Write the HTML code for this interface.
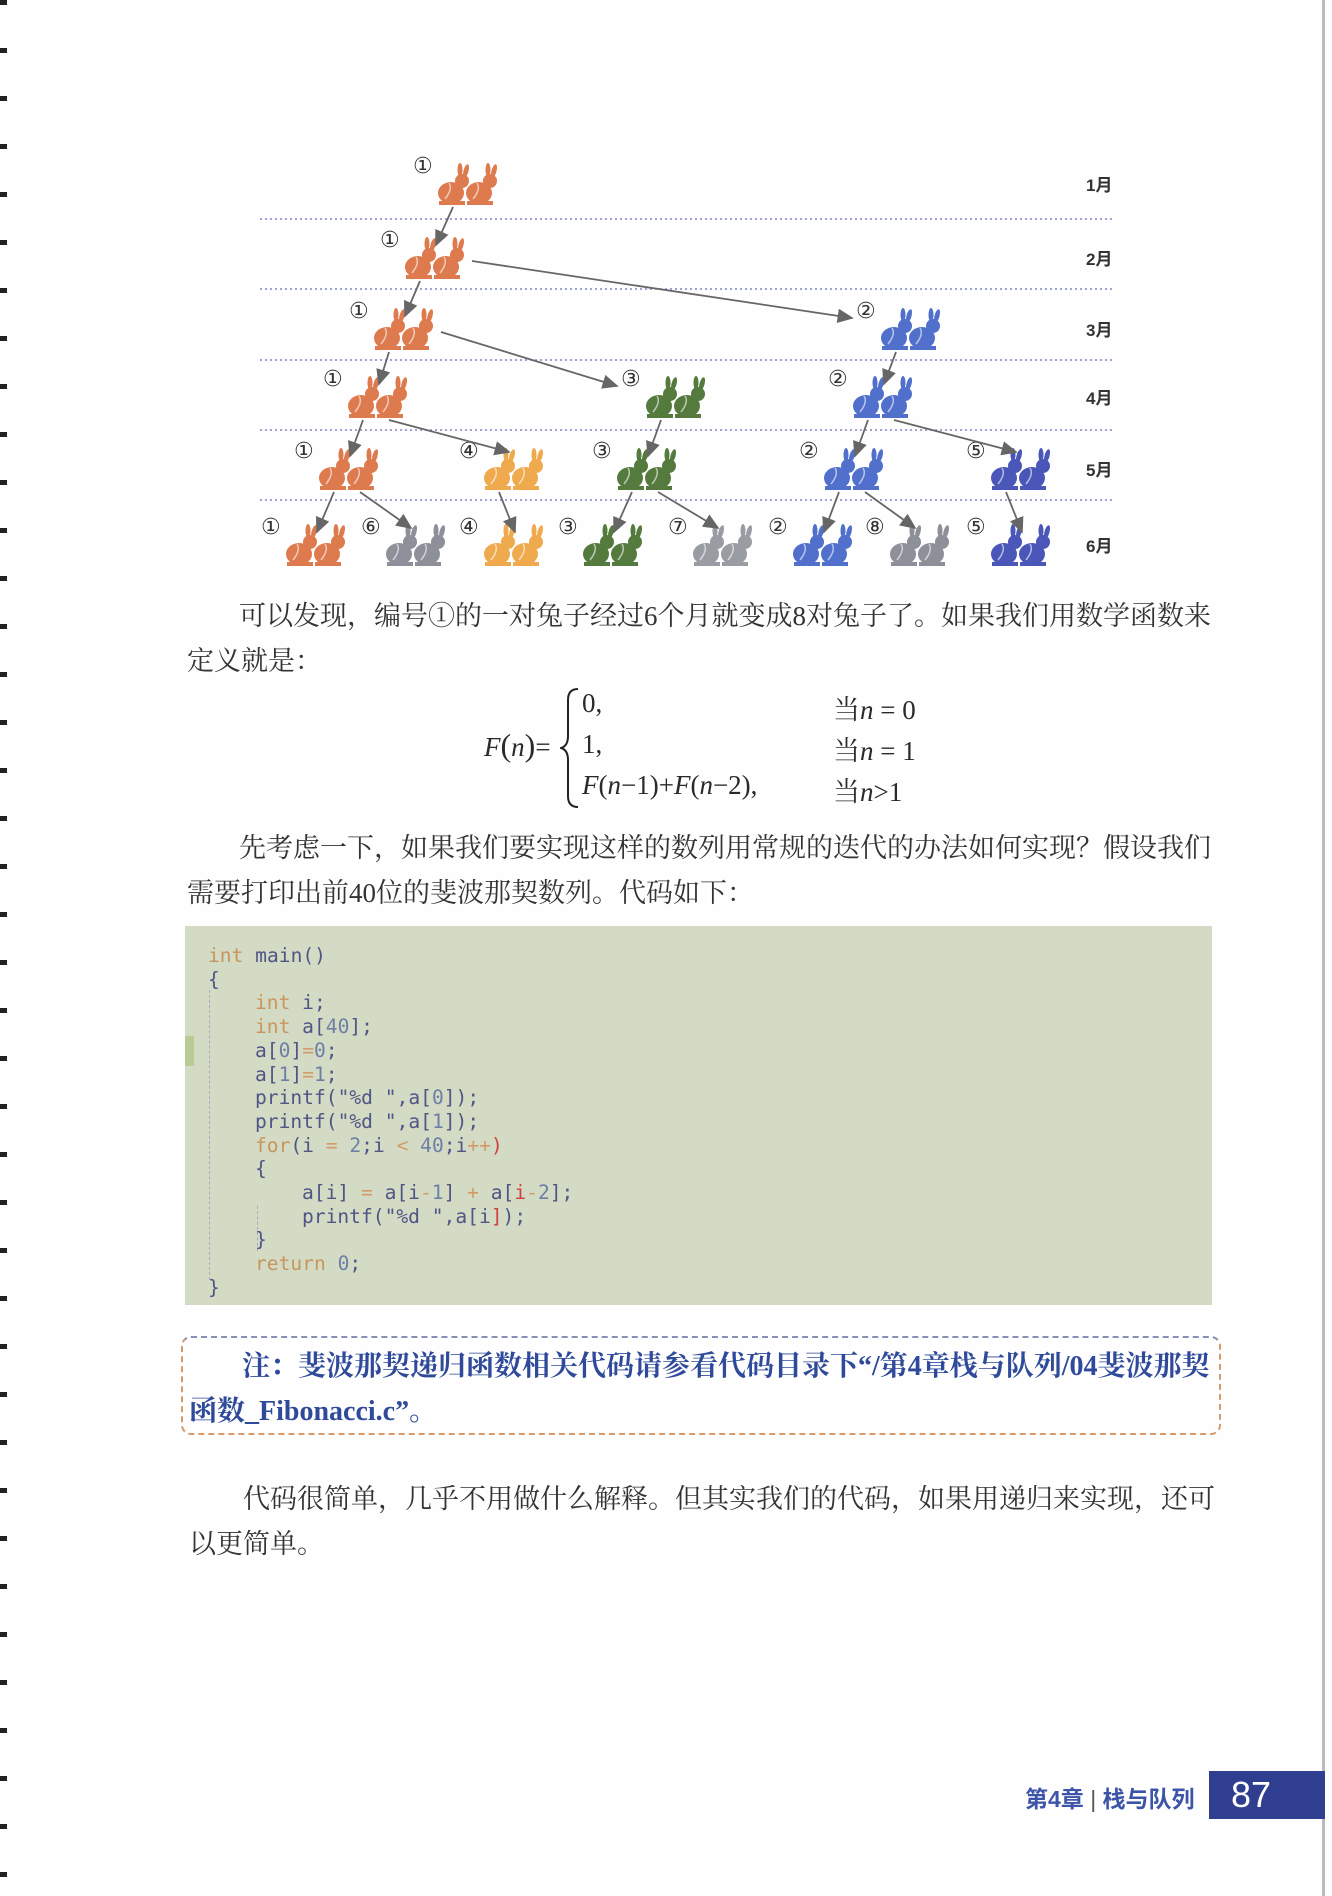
<!DOCTYPE html>
<html><head><meta charset="utf-8"><style>
html,body{margin:0;padding:0}
body{width:1332px;height:1896px;position:relative;background:#fefefe;overflow:hidden;font-family:"Liberation Serif","Noto Serif CJK SC",serif;color:#2a2a2a}
.t{position:absolute;white-space:nowrap;font-size:27px;font-family:"Liberation Serif","Noto Serif CJK SC",serif;color:#333}
.code{position:absolute;left:185px;top:926px;width:1027px;height:379px;background:#d3dbc4}
.cl{position:absolute;white-space:pre;font-family:"DejaVu Sans Mono","Liberation Mono",monospace;font-size:19.6px;color:#4f5585}
.k{color:#c9955e}.n{color:#6d7fa6}.o{color:#d39a6a}.r{color:#d04040}
.note{position:absolute;left:181px;top:1336px;width:1036px;height:95px;border:2px dashed #d99a6a;border-top-color:#8a8fb8;border-radius:10px}
.nt{position:absolute;white-space:nowrap;font-size:28px;color:#2f4a9a;font-family:"Liberation Serif","Noto Serif CJK SC",serif;font-weight:bold}
.f{position:absolute;white-space:nowrap}
</style></head><body>
<div style="position:absolute;left:0;top:0;width:7px;height:1896px;background:repeating-linear-gradient(#222 0 5px,transparent 5px 48px)"></div>
<div style="position:absolute;left:1322px;top:0;width:3px;height:1896px;background:#bbb"></div>

<svg id="diag" width="1332" height="590" style="position:absolute;left:0;top:0" xmlns="http://www.w3.org/2000/svg"></svg>

<div class="t" style="left:239px;top:594px">可以发现，编号①的一对兔子经过6个月就变成8对兔子了。如果我们用数学函数来</div>
<div class="t" style="left:187px;top:639px">定义就是：</div>

<div style="position:absolute;left:0;top:0;width:1332px;height:820px;font-family:'Liberation Serif','Noto Serif CJK SC',serif;font-size:27px">
 <div class="f" style="left:484px;top:727px;font-style:italic">F<span style="font-style:normal;font-size:32px">(</span>n<span style="font-style:normal;font-size:32px">)</span><span style="font-style:normal">=</span></div>
 <svg style="position:absolute;left:560px;top:686px" width="24" height="124"><path d="M18,3 Q8,3 8,14 L8,50 Q8,60 1,62 Q8,64 8,74 L8,110 Q8,121 18,121" stroke="#222" stroke-width="2" fill="none"/></svg>
 <div class="f" style="left:582px;top:688px">0,</div>
 <div class="f" style="left:582px;top:729px">1,</div>
 <div class="f" style="left:582px;top:770px"><i>F</i>(<i>n</i>−1)+<i>F</i>(<i>n</i>−2),</div>
 <div class="f" style="left:833px;top:688px">当<i>n</i> = 0</div>
 <div class="f" style="left:833px;top:729px">当<i>n</i> = 1</div>
 <div class="f" style="left:833px;top:770px">当<i>n</i>&gt;1</div>
</div>

<div class="t" style="left:239px;top:826px">先考虑一下，如果我们要实现这样的数列用常规的迭代的办法如何实现？假设我们</div>
<div class="t" style="left:187px;top:871px">需要打印出前40位的斐波那契数列。代码如下：</div>

<div class="code">
 <div style="position:absolute;left:0;top:110px;width:9px;height:30px;background:#b9cc96"></div>
 <div style="position:absolute;left:24px;top:64px;width:1px;height:290px;border-left:1px dashed #aab"></div>
 <div style="position:absolute;left:72px;top:280px;width:1px;height:45px;border-left:1px dashed #aab"></div>
</div>
<div id="codelines"></div>

<div class="note"></div>
<div class="nt" style="left:242px;top:1344px">注：斐波那契递归函数相关代码请参看代码目录下“/第4章栈与队列/04斐波那契</div>
<div class="nt" style="left:189px;top:1389px">函数_Fibonacci.c”。</div>

<div class="t" style="left:243px;top:1477px">代码很简单，几乎不用做什么解释。但其实我们的代码，如果用递归来实现，还可</div>
<div class="t" style="left:189px;top:1522px">以更简单。</div>

<div style="position:absolute;left:1025px;top:1780px;font-family:'Liberation Sans','Noto Sans CJK SC',sans-serif;font-size:23px;color:#3d55a8;font-weight:bold;white-space:nowrap">第4章 <span style="font-weight:normal;color:#555">|</span> 栈与队列</div>
<div style="position:absolute;left:1209px;top:1771px;width:116px;height:48px;background:#2f3e8f;color:#fff;font-family:'Liberation Sans',sans-serif;font-size:36px;line-height:48px;text-indent:22px">87</div>

<script>
// tree data
const monthLabels=['1月','2月','3月','4月','5月','6月'];
const rowY=[187,261,332,400,472,548];
const gridY=[219,289,360,430,500];
const nodeMonth=[0,1,2,2,3,3,3,4,4,4,4,4,5,5,5,5,5,5,5,5];
const nodeX=[465,432,401,908,375,673,880,346,511,644,851,1018,313,413,511,610,720,820,917,1018];
const nodeId=[1,1,1,2,1,3,2,1,4,3,2,5,1,6,4,3,7,2,8,5];
const nodeParent=[-1,0,1,1,2,2,3,4,4,5,6,6,7,7,8,9,9,10,10,11];
const idColors={1:'#de7b4e',2:'#5070cc',3:'#557a3e',4:'#f0aa4e',5:'#4a56b8',6:'#8d8f99',7:'#9a9ca4',8:'#8d8f99'};
const circ=['','①','②','③','④','⑤','⑥','⑦','⑧'];
const svg=document.getElementById('diag');
const NS='http://www.w3.org/2000/svg';
function mk(t,a){const e=document.createElementNS(NS,t);for(const k in a)e.setAttribute(k,a[k]);svg.appendChild(e);return e;}
const defs=document.createElementNS(NS,'defs');
defs.innerHTML='<marker id="ah" markerWidth="10" markerHeight="10" refX="8" refY="4" orient="auto"><path d="M0,0 L9,4 L0,8 z" fill="#666"/></marker>';
svg.appendChild(defs);
gridY.forEach(y=>{const l=mk('line',{x1:260,x2:1114,y1:y,y2:y,stroke:'#7f86c4','stroke-width':1.5,'stroke-dasharray':'2 3'});

});
monthLabels.forEach((m,i)=>{const t=mk('text',{x:1086,y:rowY[i]+4,'font-size':17,'font-weight':'bold','font-family':'Liberation Sans, Noto Sans CJK SC, sans-serif',fill:'#333'});t.textContent=m;

});
function rabbit(x,y,c){
  const g=document.createElementNS(NS,'g');svg.appendChild(g);
  
  
  g.innerHTML=`<ellipse cx="${x}" cy="${y+6}" rx="13" ry="11" fill="${c}"/><circle cx="${x+11}" cy="${y-6}" r="7" fill="${c}"/><ellipse cx="${x+9}" cy="${y-17}" rx="2.5" ry="7" fill="${c}"/><ellipse cx="${x+15}" cy="${y-16}" rx="2.5" ry="7" fill="${c}" transform="rotate(15 ${x+15} ${y-16})"/><path d="M${x-6},${y+12} q8,-10 4,-16" stroke="#fff" stroke-width="1.5" fill="none" opacity="0.6"/><rect x="${x-12}" y="${y+14}" width="26" height="4" fill="${c}"/>`;
}
nodeX.forEach((x,i)=>{
  const y=rowY[nodeMonth[i]];const c=idColors[nodeId[i]];
  rabbit(x-14,y,c);rabbit(x+14,y,c);
  const t=mk('text',{x:x-52,y:y-14,'font-size':22,'font-family':'DejaVu Sans, sans-serif',fill:'#333'});t.textContent=circ[nodeId[i]];
  
  
});
nodeParent.forEach((p,i)=>{
  if(p<0)return;
  const px=nodeX[p],py=rowY[nodeMonth[p]],cx=nodeX[i],cy=rowY[nodeMonth[i]];
  let a;
  if(nodeId[p]===nodeId[i]) a={x1:px-12,y1:py+20,x2:cx+4,y2:cy-16};
  else if(cx-px>150) a={x1:px+40,y1:py,x2:cx-56,y2:cy-14};
  else a={x1:px+14,y1:py+20,x2:cx-2,y2:cy-20};
  const l=mk('line',Object.assign(a,{stroke:'#666','stroke-width':1.8,'marker-end':'url(#ah)'}));
  
  
});
// code
const codeLines=[
['<span class="k">int</span> main()',0],['{',0],['<span class="k">int</span> i;',1],['<span class="k">int</span> a[<span class="n">40</span>];',1],
['a[<span class="n">0</span>]<span class="o">=</span><span class="n">0</span>;',1],['a[<span class="n">1</span>]<span class="o">=</span><span class="n">1</span>;',1],
['printf("%d ",a[<span class="n">0</span>]);',1],['printf("%d ",a[<span class="n">1</span>]);',1],
['<span class="k">for</span>(i <span class="o">=</span> <span class="n">2</span>;i <span class="o">&lt;</span> <span class="n">40</span>;i<span class="o">++</span><span class="r">)</span>',1],['{',1],
['a[i] <span class="o">=</span> a[i<span class="o">-</span><span class="n">1</span>] <span class="o">+</span> a[<span class="r">i</span><span class="o">-</span><span class="n">2</span>];',2],['printf("%d ",a[i<span class="r">]</span>);',2],
['}',1],['<span class="k">return</span> <span class="n">0</span>;',1],['}',0]];
const cw=document.getElementById('codelines');
codeLines.forEach((c,i)=>{const d=document.createElement('div');d.className='cl';


d.style.left=(208+c[1]*47)+'px';d.style.top=(944+i*23.7)+'px';d.innerHTML=c[0];cw.appendChild(d);});
</script>
</body></html>
